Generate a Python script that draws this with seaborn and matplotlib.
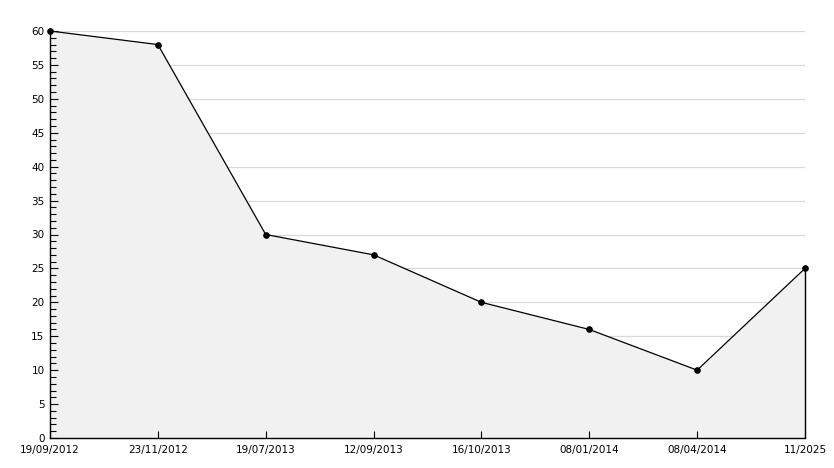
import matplotlib
matplotlib.use("Agg")
import matplotlib.pyplot as plt
import seaborn as sns
import pandas as pd
from matplotlib.ticker import MultipleLocator

# === DATA ===
dates = ["19/09/2012", "23/11/2012", "19/07/2013", "12/09/2013",
         "16/10/2013", "08/01/2014", "08/04/2014", "11/2025"]
values = [60, 58, 30, 27, 20, 16, 10, 25]

df = pd.DataFrame({"pos": range(len(dates)), "value": values})

sns.set_style("white")
plt.rcParams["font.family"] = ["DejaVu Sans"]

fig = plt.figure(figsize=(8.34, 4.68), dpi=100)
ax = fig.add_axes([50 / 834, 30 / 468, 755 / 834, 407 / 468])

ax.set_xlim(0, len(dates) - 1)
ax.set_ylim(0, 60)
ax.yaxis.set_major_locator(MultipleLocator(5))
ax.yaxis.set_minor_locator(MultipleLocator(1))

# grid lines sit behind the grey area, ticks stay on top
grid_y = [t for t in ax.get_yticks() if 0 < t <= 60]
ax.hlines(grid_y, 0, len(dates) - 1, color="#d9d9d9", linewidth=0.9, zorder=0)
ax.fill_between(df["pos"], df["value"], 0, color="#f1f1f1", zorder=1, linewidth=0)
sns.lineplot(data=df, x="pos", y="value", ax=ax, color="black", linewidth=0.9,
             marker="o", markersize=4, markeredgecolor="black", zorder=3, clip_on=False)
ax.vlines(df["pos"].iloc[-1], 0, df["value"].iloc[-1], color="black", linewidth=1.0,
          zorder=3, clip_on=False)

ax.set_xlim(0, len(dates) - 1)
ax.set_ylim(0, 60)
ax.set_xticks(df["pos"])
ax.set_xticklabels(dates)
ax.grid(False)
ax.set_axisbelow(False)

for s in ["top", "right"]:
    ax.spines[s].set_visible(False)
for s in ["left", "bottom"]:
    ax.spines[s].set_color("black")
    ax.spines[s].set_linewidth(1.0)

ax.tick_params(axis="y", which="major", left=True, direction="in", length=6, width=0.8,
               labelsize=7.5, pad=4, colors="black")
ax.tick_params(axis="y", which="minor", left=True, direction="in", length=4, width=0.8,
               colors="black")
ax.tick_params(axis="x", which="major", bottom=True, direction="in", length=5, width=0.8,
               labelsize=7.5, pad=5, colors="black")
ax.set_xlabel("")
ax.set_ylabel("")

fig.savefig("out.png", dpi=100)
